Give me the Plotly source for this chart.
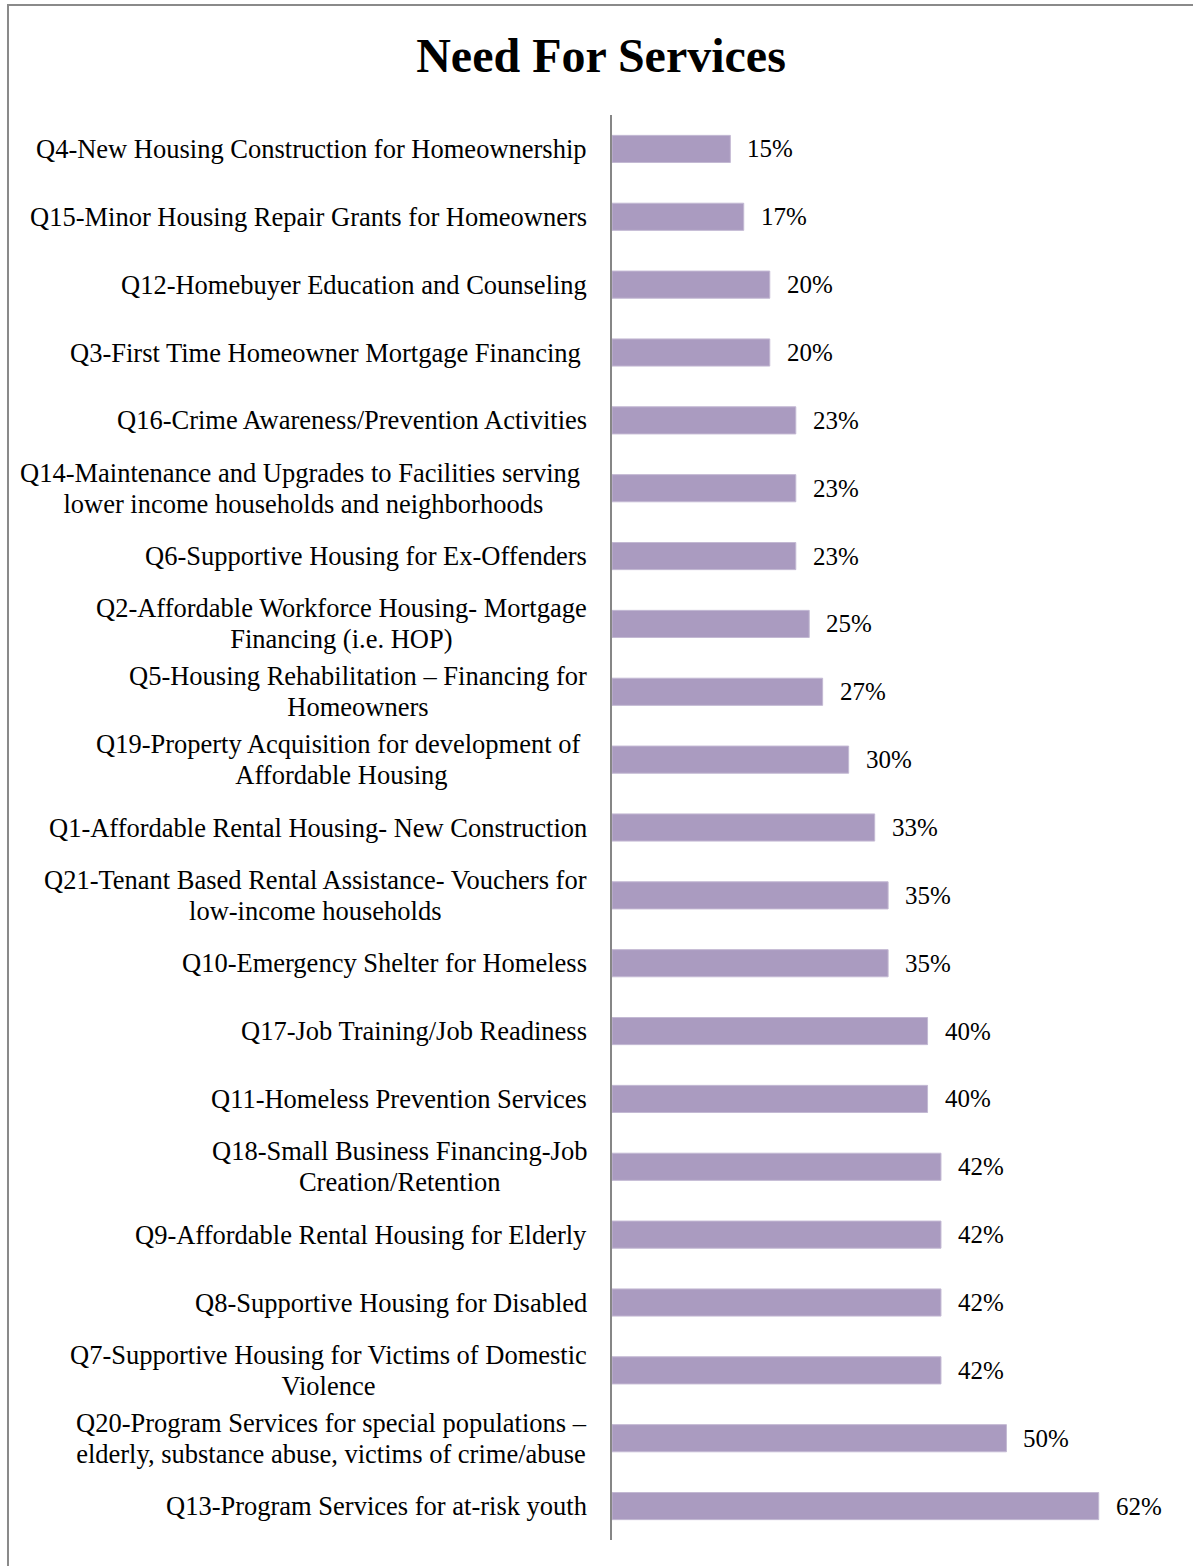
import plotly.graph_objects as go

categories = [
    "Q4-New Housing Construction for Homeownership",
    "Q15-Minor Housing Repair Grants for Homeowners",
    "Q12-Homebuyer Education and Counseling",
    "Q3-First Time Homeowner Mortgage Financing&nbsp;",
    "Q16-Crime Awareness/Prevention Activities",
    "Q14-Maintenance and Upgrades to Facilities serving&nbsp;<br>lower income households and neighborhoods",
    "Q6-Supportive Housing for Ex-Offenders",
    "Q2-Affordable Workforce Housing- Mortgage<br>Financing (i.e. HOP)",
    "Q5-Housing Rehabilitation \u2013 Financing for<br>Homeowners",
    "Q19-Property Acquisition for development of&nbsp;<br>Affordable Housing",
    "Q1-Affordable Rental Housing- New Construction",
    "Q21-Tenant Based Rental Assistance- Vouchers for<br>low-income households",
    "Q10-Emergency Shelter for Homeless",
    "Q17-Job Training/Job Readiness",
    "Q11-Homeless Prevention Services",
    "Q18-Small Business Financing-Job<br>Creation/Retention",
    "Q9-Affordable Rental Housing for Elderly",
    "Q8-Supportive Housing for Disabled",
    "Q7-Supportive Housing for Victims of Domestic<br>Violence",
    "Q20-Program Services for special populations \u2013<br>elderly, substance abuse, victims of crime/abuse",
    "Q13-Program Services for at-risk youth",
]
values = [15.0, 16.7, 20.0, 20.0, 23.3, 23.3, 23.3, 25.0, 26.7, 30.0, 33.3,
          35.0, 35.0, 40.0, 40.0, 41.7, 41.7, 41.7, 41.7, 50.0, 61.7]
value_labels = [f"{round(v)}%" for v in values]

FONT = "Liberation Serif, Times New Roman, serif"
BAR_COLOR = "#AA9BC0"
LABEL_PX = 26.5


def styled(label):
    # tighter line spacing: base font smaller, each line rendered at LABEL_PX
    return "<br>".join(f'<span style="font-size:{LABEL_PX}px">{part}</span>'
                       for part in label.split("<br>"))


fig = go.Figure()
fig.add_trace(go.Bar(
    x=values, y=categories, orientation="h",
    marker=dict(color=BAR_COLOR, line=dict(color="#C3B9D3", width=1)),
    width=0.4, hoverinfo="x+y", showlegend=False,
))

annotations = []
for cat, v, lab in zip(categories, values, value_labels):
    annotations.append(dict(
        x=v, y=cat, xref="x", yref="y", text=lab, showarrow=False,
        xanchor="left", yanchor="middle", xshift=15,
        font=dict(family=FONT, size=25, color="#000000"),
    ))
    annotations.append(dict(
        x=0, y=cat, xref="paper", yref="y", text=styled(cat), showarrow=False,
        xanchor="right", yanchor="middle", xshift=-23, align="center",
        font=dict(family=FONT, size=23.5, color="#000000"),
    ))

fig.update_layout(
    width=1193, height=1566,
    margin=dict(l=612, r=13, t=115, b=26),
    paper_bgcolor="white", plot_bgcolor="white",
    title=dict(text="<b>Need For Services</b>", x=601 / 1193, xref="container",
               xanchor="center", y=1 - 55 / 1566, yref="container", yanchor="middle",
               font=dict(family=FONT, size=48, color="#000000")),
    xaxis=dict(range=[0, 72], showgrid=False, zeroline=False, showticklabels=False,
               showline=False, fixedrange=True),
    yaxis=dict(autorange="reversed", showticklabels=False, showgrid=False,
               showline=True, linecolor="#868686", linewidth=2, ticks="",
               zeroline=False),
    bargap=0.6,
    annotations=annotations,
    shapes=[dict(type="path", xref="paper", yref="paper",
                 path="M -1.0634,-0.03 L -1.0634,1.0772 L 1.03,1.0772",
                 line=dict(color="#8A8A8A", width=2))],
)

fig.write_html("out.html",
               config={"displayModeBar": False},
               post_script="document.body.style.margin='0px';")
